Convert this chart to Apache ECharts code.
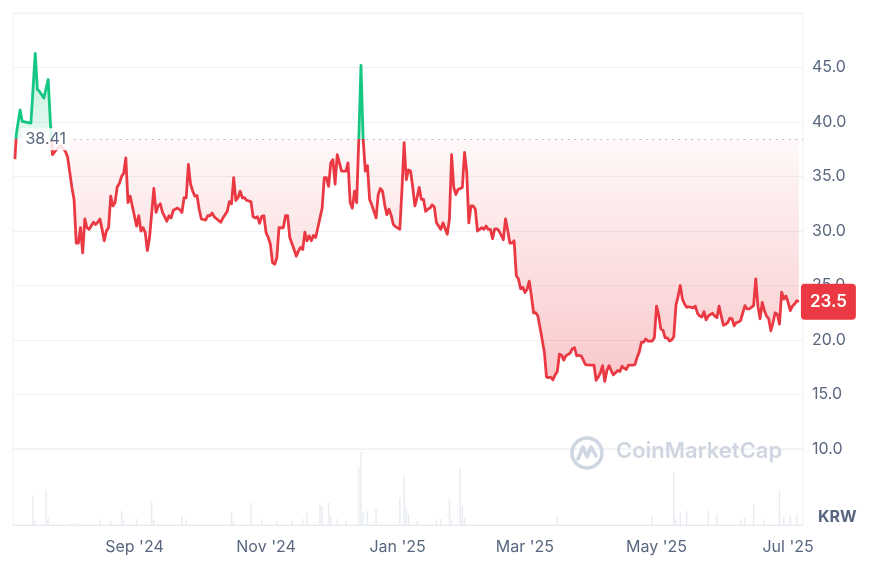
<!DOCTYPE html>
<html><head><meta charset="utf-8">
<script src="https://cdn.jsdelivr.net/npm/echarts@6/dist/echarts.min.js"></script>
<style>html,body{margin:0;padding:0;background:#fff}#c{width:885px;height:573px}</style>
</head><body><div id="c"></div>
<script>
// ---------------- data ----------------
const priceDates = [
'2024-07-07 14:00','2024-07-08 06:00','2024-07-10','2024-07-11','2024-07-15','2024-07-17','2024-07-18','2024-07-19','2024-07-20','2024-07-21','2024-07-23','2024-07-24','2024-07-25','2024-07-27','2024-07-29','2024-07-31',
'2024-08-01','2024-08-03','2024-08-04','2024-08-05','2024-08-06','2024-08-07','2024-08-08','2024-08-09','2024-08-10','2024-08-11','2024-08-13','2024-08-14','2024-08-15','2024-08-16','2024-08-17','2024-08-18','2024-08-19','2024-08-20','2024-08-21','2024-08-22','2024-08-23','2024-08-24','2024-08-25','2024-08-26','2024-08-27','2024-08-28','2024-08-29','2024-08-30','2024-08-31',
'2024-09-02','2024-09-03','2024-09-04','2024-09-05','2024-09-06','2024-09-07','2024-09-08','2024-09-10','2024-09-11','2024-09-12','2024-09-13','2024-09-14','2024-09-16','2024-09-17','2024-09-18','2024-09-19','2024-09-21','2024-09-22','2024-09-23','2024-09-24','2024-09-25','2024-09-26','2024-09-27','2024-09-28','2024-09-29','2024-09-30',
'2024-10-01','2024-10-02','2024-10-04','2024-10-05','2024-10-06','2024-10-07','2024-10-08','2024-10-11','2024-10-12','2024-10-14','2024-10-15','2024-10-16','2024-10-17','2024-10-18','2024-10-19','2024-10-20','2024-10-21','2024-10-22','2024-10-23','2024-10-25','2024-10-26','2024-10-27','2024-10-28','2024-10-29','2024-10-30','2024-10-31',
'2024-11-01','2024-11-02','2024-11-03','2024-11-04','2024-11-05','2024-11-06','2024-11-07','2024-11-09','2024-11-10','2024-11-11','2024-11-12','2024-11-14','2024-11-15','2024-11-16','2024-11-17','2024-11-18','2024-11-19','2024-11-20','2024-11-21','2024-11-22','2024-11-23','2024-11-24','2024-11-25','2024-11-27','2024-11-28','2024-11-29','2024-11-30',
'2024-12-01','2024-12-02','2024-12-03','2024-12-04','2024-12-06','2024-12-08','2024-12-09','2024-12-10','2024-12-11','2024-12-12','2024-12-13','2024-12-14','2024-12-15','2024-12-16','2024-12-17','2024-12-18','2024-12-19','2024-12-20','2024-12-22','2024-12-23','2024-12-24','2024-12-25','2024-12-26','2024-12-27','2024-12-28','2024-12-29','2024-12-30','2024-12-31',
'2025-01-02','2025-01-03','2025-01-04','2025-01-05','2025-01-06','2025-01-07','2025-01-08','2025-01-09','2025-01-10','2025-01-11','2025-01-12','2025-01-13','2025-01-14','2025-01-15','2025-01-16','2025-01-17','2025-01-18','2025-01-19','2025-01-21','2025-01-22','2025-01-24','2025-01-25','2025-01-26','2025-01-27','2025-01-28','2025-01-29','2025-01-31',
'2025-02-01','2025-02-02','2025-02-03','2025-02-04','2025-02-05','2025-02-06','2025-02-07','2025-02-08','2025-02-09','2025-02-10','2025-02-11','2025-02-12','2025-02-13','2025-02-14','2025-02-15','2025-02-16','2025-02-17','2025-02-19','2025-02-20','2025-02-21','2025-02-22','2025-02-23','2025-02-24','2025-02-25','2025-02-26','2025-02-27','2025-02-28',
'2025-03-01','2025-03-02','2025-03-03','2025-03-04','2025-03-05','2025-03-06','2025-03-07','2025-03-08','2025-03-10','2025-03-11','2025-03-12','2025-03-13','2025-03-14','2025-03-15','2025-03-16','2025-03-17','2025-03-18','2025-03-19','2025-03-20','2025-03-22','2025-03-23','2025-03-24','2025-03-25','2025-03-26','2025-03-27','2025-03-28','2025-03-29','2025-03-31',
'2025-04-01','2025-04-02','2025-04-03','2025-04-04','2025-04-05','2025-04-06','2025-04-07','2025-04-08','2025-04-09','2025-04-10','2025-04-11','2025-04-12','2025-04-13','2025-04-14','2025-04-15','2025-04-16','2025-04-17','2025-04-18','2025-04-20','2025-04-21','2025-04-22','2025-04-23','2025-04-24','2025-04-25','2025-04-26','2025-04-27','2025-04-29','2025-04-30',
'2025-05-01','2025-05-02','2025-05-03','2025-05-04','2025-05-05','2025-05-06','2025-05-07','2025-05-08','2025-05-09','2025-05-10','2025-05-11','2025-05-12','2025-05-13','2025-05-14','2025-05-15','2025-05-16','2025-05-18','2025-05-19','2025-05-20','2025-05-21','2025-05-22','2025-05-23','2025-05-24','2025-05-25','2025-05-26','2025-05-27','2025-05-28','2025-05-29','2025-05-30','2025-05-31',
'2025-06-01','2025-06-02','2025-06-03','2025-06-04','2025-06-05','2025-06-06','2025-06-07','2025-06-08','2025-06-09','2025-06-10','2025-06-11','2025-06-12','2025-06-13','2025-06-15','2025-06-16','2025-06-17','2025-06-18','2025-06-19','2025-06-20','2025-06-21','2025-06-22','2025-06-23','2025-06-24','2025-06-25','2025-06-26','2025-06-27','2025-06-28','2025-06-29','2025-06-30',
'2025-07-01','2025-07-02','2025-07-03','2025-07-04','2025-07-05','2025-07-06'
];
const priceValues = [
36.6,38.9,41.1,40.05,39.9,46.3,43.0,42.8,42.5,42.2,43.9,40.05,37.0,37.5,37.8,37.3,
36.8,34.0,32.9,28.9,28.9,30.3,28.0,31.1,30.3,30.15,30.8,30.6,30.8,31.1,30.15,29.1,30.0,30.3,33.2,32.3,32.6,34.05,34.35,35.0,35.3,36.7,32.6,33.2,32.3,
30.45,31.4,30.0,30.3,29.85,28.2,29.4,33.9,31.7,32.3,32.5,31.7,30.9,31.4,31.2,31.9,32.1,31.95,31.7,33.05,33.05,36.1,34.3,33.65,33.2,33.25,
32.0,31.1,31.0,31.4,31.4,31.65,31.3,30.8,31.2,31.8,32.7,32.5,34.9,32.8,33.05,33.65,33.05,33.05,32.8,32.7,31.3,31.2,31.3,30.7,31.35,31.4,
29.85,29.4,28.8,27.1,26.95,27.55,30.3,30.3,31.4,31.4,29.4,28.3,27.7,28.15,28.5,28.3,29.9,29.1,29.55,29.1,29.6,29.4,30.3,32.1,34.9,34.9,34.1,
36.25,36.55,34.3,37.0,35.5,35.5,36.25,32.6,32.1,33.65,32.6,38.5,45.2,38.5,35.5,36.0,32.9,32.4,31.2,33.35,33.9,33.65,32.4,31.5,32.0,31.45,30.6,30.4,
30.15,33.8,38.1,34.7,35.6,35.5,34.0,32.3,33.05,34.0,32.9,32.9,31.8,32.0,32.1,32.4,32.2,30.75,30.15,30.75,29.7,31.1,37.0,34.0,33.35,33.8,34.0,
37.2,35.5,30.75,32.3,32.3,32.0,30.0,30.15,30.3,30.15,30.45,30.15,30.15,29.3,30.2,30.2,30.0,29.2,31.1,30.1,28.9,28.9,29.1,25.9,25.6,24.7,24.85,
24.35,24.65,25.4,24.05,22.5,22.5,22.2,21.15,18.9,16.6,16.55,16.6,16.35,16.8,17.1,18.7,18.6,18.15,18.55,18.8,19.2,19.3,18.55,18.6,18.55,18.2,17.75,17.7,
17.7,17.7,16.3,16.6,17.0,17.65,16.2,17.2,17.65,17.2,16.8,17.0,17.2,17.1,17.6,17.4,17.3,17.7,17.7,17.75,18.4,18.9,19.8,19.8,20.1,19.9,19.9,20.2,
23.1,22.3,21.0,20.9,20.2,20.2,19.9,20.0,20.3,23.2,24.0,25.0,23.75,23.3,23.0,23.05,22.95,23.1,22.45,22.2,22.1,22.6,21.85,22.2,22.35,22.45,22.2,22.05,23.1,22.2,
21.35,21.45,21.6,22.0,21.95,21.3,21.6,21.65,21.8,22.5,23.15,22.85,22.85,23.15,25.6,23.1,21.95,23.45,22.7,22.2,21.95,20.85,21.6,22.5,22.35,21.45,24.4,23.75,24.05,
23.45,22.7,23.1,23.3,23.6,23.5
];
const volumeDates = ['2024-07-16','2024-07-17','2024-07-22','2024-07-23','2024-08-03','2024-08-05','2024-08-16','2024-08-21','2024-08-26','2024-08-27','2024-09-02','2024-09-09','2024-09-10','2024-09-23','2024-09-25','2024-10-16','2024-10-17','2024-10-25','2024-10-30','2024-11-06','2024-11-13','2024-11-18','2024-11-20','2024-11-26','2024-11-27','2024-11-30','2024-12-01','2024-12-04','2024-12-08','2024-12-14','2024-12-15','2024-12-16','2024-12-18','2024-12-22','2025-01-02','2025-01-04','2025-01-05','2025-01-06','2025-01-10','2025-01-19','2025-01-21','2025-01-25','2025-01-26','2025-01-30','2025-01-31','2025-02-01','2025-03-16','2025-04-29','2025-05-09','2025-05-10','2025-05-12','2025-05-15','2025-05-25','2025-05-29','2025-06-09','2025-06-11','2025-06-15','2025-06-20','2025-06-27','2025-06-29','2025-07-02','2025-07-05'];
const volumeValues = [29,4,34,7,2,2,6,4,14,6,6,23,6,9,6,12,4,22,6,4,4,6,12,20,18,22,9,6,4,57,72,12,14,16,27,48,17,11,4,6,6,26,6,56,19,7,9,9,52,6,12,14,14,11,6,7,20,6,34,7,9,11];
const xTickDates = ['2024-09-01','2024-11-01','2025-01-01','2025-03-01','2025-05-01','2025-07-01'];
const monthNames = ['Jan','Feb','Mar','Apr','May','Jun','Jul','Aug','Sep','Oct','Nov','Dec'];
const openPrice = 38.41;
const refLineStart = '2024-08-04';
const lastPriceLabel = '23.5';
const currencyLabel = 'KRW';
const xRangeStart = '2024-07-06 16:48';
const xRangeEnd = '2025-07-07 21:36';

// ---------------- helpers ----------------
function ts(s){
  const parts = s.split(' ');
  const d = parts[0].split('-').map(Number);
  let h = 0, mi = 0;
  if (parts[1]) { const t = parts[1].split(':').map(Number); h = t[0]; mi = t[1]; }
  return new Date(d[0], d[1]-1, d[2], h, mi).getTime();
}
const GRID_LEFT = 13, GRID_RIGHT = 82, GRID_TOP = 13, GRID_H = 436, VOL_H = 76;
const Y_MIN = 10, Y_MAX = 50;
const yPix = v => GRID_TOP + (Y_MAX - v) / (Y_MAX - Y_MIN) * GRID_H;
const fBase = (yPix(openPrice) - GRID_TOP) / GRID_H;
const fLow = (yPix(16) - GRID_TOP) / GRID_H;
const GREEN = '#16c784', RED = '#ea3943', TXT = '#58667e';

const lineGrad = {type:'linear', global:true, x:0, y:GRID_TOP, x2:0, y2:GRID_TOP+GRID_H,
  colorStops:[{offset:0,color:GREEN},{offset:fBase,color:GREEN},{offset:fBase,color:RED},{offset:1,color:RED}]};
const areaGrad = {type:'linear', global:true, x:0, y:GRID_TOP, x2:0, y2:GRID_TOP+GRID_H,
  colorStops:[
    {offset:0,color:'rgba(22,199,132,0.38)'},
    {offset:fBase,color:'rgba(22,199,132,0.10)'},
    {offset:fBase,color:'rgba(234,57,67,0.03)'},
    {offset:fLow,color:'rgba(234,57,67,0.28)'},
    {offset:1,color:'rgba(234,57,67,0.30)'}]};

const priceData = priceDates.map((d,i) => [ts(d), priceValues[i]]);
const volumeData = volumeDates.map((d,i) => [ts(d), volumeValues[i]]);
const X_MIN = ts(xRangeStart), X_MAX = ts(xRangeEnd);
const fmtMonth = v => { const d = new Date(v); return monthNames[d.getMonth()] + " '" + String(d.getFullYear()).slice(2); };

const chart = echarts.init(document.getElementById('c'), null, {renderer:'canvas'});
chart.setOption({
  animation: false,
  backgroundColor: '#ffffff',
  textStyle: {fontFamily: 'Inter, "Noto Sans", sans-serif'},
  grid: [
    {left:GRID_LEFT, right:GRID_RIGHT, top:GRID_TOP, height:GRID_H, show:true, borderColor:'#eff2f5', borderWidth:1},
    {left:GRID_LEFT, right:GRID_RIGHT, top:GRID_TOP+GRID_H, height:VOL_H, show:true, borderColor:'#eff2f5', borderWidth:1}
  ],
  xAxis: [
    {type:'value', gridIndex:0, min:X_MIN, max:X_MAX, show:false, scale:true},
    {type:'value', gridIndex:1, min:X_MIN, max:X_MAX, scale:true,
      axisLine:{show:true, lineStyle:{color:'#e6e9ee'}},
      axisTick:{show:false}, splitLine:{show:false},
      axisLabel:{customValues: xTickDates.map(ts), color:TXT, fontSize:16, margin:14, formatter: fmtMonth}}
  ],
  yAxis: [
    {type:'value', gridIndex:0, position:'right', min:Y_MIN, max:Y_MAX, interval:5,
      axisLine:{show:false}, axisTick:{show:false},
      splitLine:{show:true, lineStyle:{color:'#eff2f5', width:1}},
      axisLabel:{color:TXT, fontSize:16, margin:9, showMaxLabel:false, formatter: v => v.toFixed(1)}},
    {type:'value', gridIndex:1, min:0, max:75, show:false}
  ],
  graphic: [
    {type:'circle', z:1, shape:{cx:587, cy:453, r:15}, style:{fill:'none', stroke:'#cfd6e1', lineWidth:3.5}},
    {type:'polyline', z:1, shape:{points:[[578,459],[583,447],[587,457],[591,447],[596,456]]}, style:{fill:'none', stroke:'#cfd6e1', lineWidth:3.5, lineJoin:'round', lineCap:'round'}},
    {type:'text', z:1, left:616, top:440, style:{text:'CoinMarketCap', fill:'#cfd6e1', font:'600 22px Inter'}},
    {type:'text', z:10, left:818, top:509, style:{text:currencyLabel, fill:TXT, font:'700 16px Inter'}}
  ],
  series: [
    {type:'bar', xAxisIndex:1, yAxisIndex:1, data:volumeData, barWidth:1.5, silent:true,
      itemStyle:{color:'#e8ecf2'}},
    {type:'line', xAxisIndex:0, yAxisIndex:0, data:priceData, showSymbol:false, symbol:'none', z:3,
      lineStyle:{width:2.8, color:lineGrad, join:'round'},
      itemStyle:{color:RED},
      areaStyle:{origin:openPrice, color:areaGrad, opacity:1},
      endLabel:{show:true, formatter:lastPriceLabel, color:'#ffffff', backgroundColor:RED, borderRadius:4,
        padding:[10,9,9,9], fontSize:17, fontWeight:600, distance:2},
      markLine:{silent:true, symbol:['none','none'], animation:false,
        lineStyle:{color:'#a6b0c3', width:1.2, type:[1.5,5]},
        label:{show:true, position:'start', formatter: String(openPrice), color:TXT, fontSize:16,
          backgroundColor:'rgba(255,255,255,0.85)', padding:[3,4], distance:4},
        data:[[{coord:[ts(refLineStart), openPrice]}, {coord:[X_MAX, openPrice]}]]}
    }
  ]
});
</script></body></html>
